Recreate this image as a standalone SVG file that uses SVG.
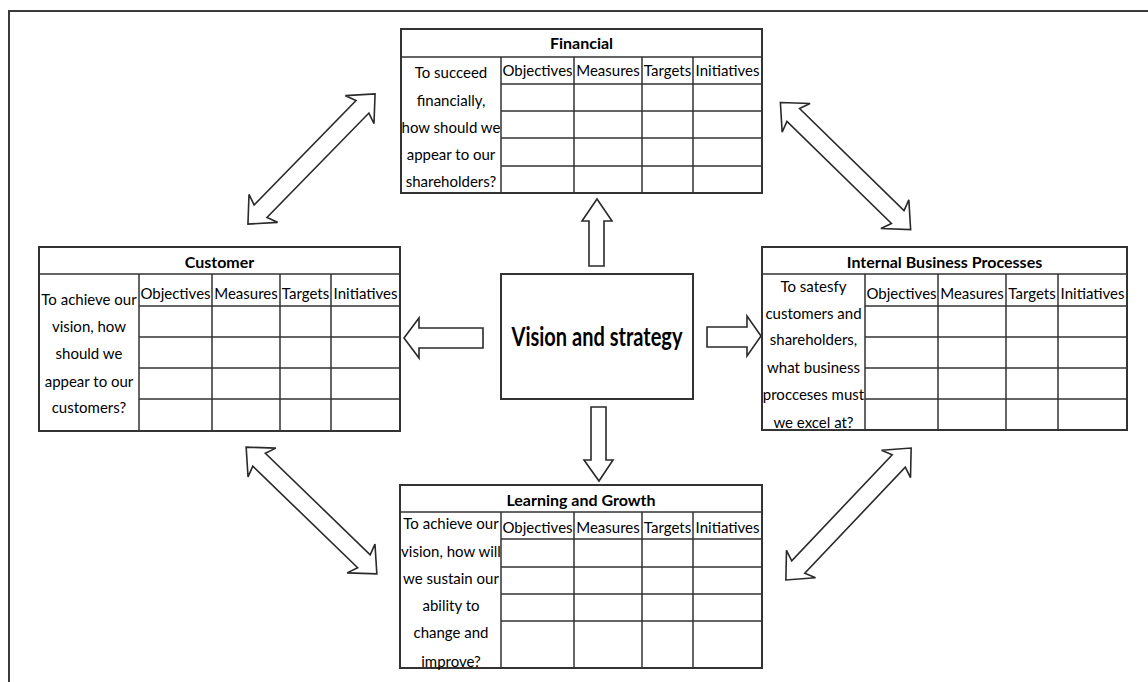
<svg xmlns="http://www.w3.org/2000/svg" width="1148" height="682" viewBox="0 0 1148 682">
  <style>
    .frame { stroke: #3a3a3a; stroke-width: 2; fill: none; }
    .box { fill: #ffffff; stroke: #333333; stroke-width: 2; }
    .grid { stroke: #333333; stroke-width: 1.5; fill: none; }
    .arrow { fill: #ffffff; stroke: #2a2a2a; stroke-width: 1.6; stroke-linejoin: miter; }
    .cell { font-family: Lato, "Liberation Sans", sans-serif; font-size: 15px; fill: #000000; text-anchor: middle; }
    .title { font-family: Lato, "Liberation Sans", sans-serif; font-size: 16px; font-weight: bold; fill: #000000; text-anchor: middle; }
    .vision { font-family: Lato, "Liberation Sans", sans-serif; font-size: 26px; font-weight: bold; fill: #000000; text-anchor: middle; }
  </style>
  <defs>
    <!-- two-headed block arrow, centred on the origin, pointing along x; barbs swept slightly back -->
    <path id="dbl" d="M -91,0 L -69,-20 L -73,-9 L 73,-9 L 69,-20 L 91,0 L 69,20 L 73,9 L -73,9 L -69,20 Z"/>
  </defs>

  <rect width="1148" height="682" fill="#ffffff"/>
  <!-- page frame: top and left edges -->
  <path class="frame" d="M 9,682 L 9,11 L 1148,11"/>

  <!-- Financial perspective -->
  <g id="financial">
    <rect class="box" x="401" y="29" width="361" height="164"/>
    <path class="grid" d="M401,57 H762 M501,84 H762 M501,111 H762 M501,138 H762 M501,166 H762 M501,57 V193 M574,57 V193 M642,57 V193 M693,57 V193"/>
    <text class="title" x="581.5" y="49">Financial</text>
    <text class="cell" x="537.5" y="76">Objectives</text>
    <text class="cell" x="608" y="76">Measures</text>
    <text class="cell" x="667.5" y="76">Targets</text>
    <text class="cell" x="727.5" y="76">Initiatives</text>
    <text class="cell" x="451" y="78">To succeed</text>
    <text class="cell" x="451" y="106">financially,</text>
    <text class="cell" x="451" y="133">how should we</text>
    <text class="cell" x="451" y="160">appear to our</text>
    <text class="cell" x="451" y="187">shareholders?</text>
  </g>

  <!-- Customer perspective -->
  <g id="customer">
    <rect class="box" x="39" y="247" width="361" height="184"/>
    <path class="grid" d="M39,274 H400 M139,306 H400 M139,337 H400 M139,368 H400 M139,399 H400 M139,274 V431 M212,274 V431 M280,274 V431 M331,274 V431"/>
    <text class="title" x="219.5" y="268">Customer</text>
    <text class="cell" x="175.5" y="299">Objectives</text>
    <text class="cell" x="246" y="299">Measures</text>
    <text class="cell" x="305.5" y="299">Targets</text>
    <text class="cell" x="365.5" y="299">Initiatives</text>
    <text class="cell" x="89" y="305">To achieve our</text>
    <text class="cell" x="89" y="332">vision, how</text>
    <text class="cell" x="89" y="359">should we</text>
    <text class="cell" x="89" y="387">appear to our</text>
    <text class="cell" x="89" y="413">customers?</text>
  </g>

  <!-- Internal business processes perspective -->
  <g id="internal">
    <rect class="box" x="762" y="247" width="365" height="183"/>
    <path class="grid" d="M762,274 H1127 M865,306 H1127 M865,337 H1127 M865,368 H1127 M865,399 H1127 M865,274 V430 M938,274 V430 M1006,274 V430 M1058,274 V430"/>
    <text class="title" x="944.5" y="268">Internal Business Processes</text>
    <text class="cell" x="901.5" y="299">Objectives</text>
    <text class="cell" x="972" y="299">Measures</text>
    <text class="cell" x="1032" y="299">Targets</text>
    <text class="cell" x="1092.5" y="299">Initiatives</text>
    <text class="cell" x="813.5" y="292">To satesfy</text>
    <text class="cell" x="813.5" y="319">customers and</text>
    <text class="cell" x="813.5" y="345">shareholders,</text>
    <text class="cell" x="813.5" y="373">what business</text>
    <text class="cell" x="813.5" y="400">procceses must</text>
    <text class="cell" x="813.5" y="428">we excel at?</text>
  </g>

  <!-- Learning and growth perspective -->
  <g id="learning">
    <rect class="box" x="400" y="485" width="362" height="183"/>
    <path class="grid" d="M400,512 H762 M501,539 H762 M501,567 H762 M501,594 H762 M501,621 H762 M501,512 V668 M574,512 V668 M642,512 V668 M693,512 V668"/>
    <text class="title" x="581" y="506">Learning and Growth</text>
    <text class="cell" x="537.5" y="533">Objectives</text>
    <text class="cell" x="608" y="533">Measures</text>
    <text class="cell" x="667.5" y="533">Targets</text>
    <text class="cell" x="727.5" y="533">Initiatives</text>
    <text class="cell" x="451" y="529">To achieve our</text>
    <text class="cell" x="451" y="557">vision, how will</text>
    <text class="cell" x="451" y="584">we sustain our</text>
    <text class="cell" x="451" y="611">ability to</text>
    <text class="cell" x="451" y="638">change and</text>
    <text class="cell" x="451" y="667">improve?</text>
  </g>

  <!-- Vision and strategy hub -->
  <g id="vision">
    <rect class="box" x="501" y="274" width="192" height="125" stroke-width="1.6"/>
    <text class="vision" x="597" y="346" textLength="171" lengthAdjust="spacingAndGlyphs">Vision and strategy</text>
  </g>

  <g id="connectors">
    <!-- hub to perspectives -->
    <path class="arrow" d="M597,199 L612,221 L604,221 L604,266 L589,266 L589,221 L582,221 Z"/>
    <path class="arrow" d="M599,481 L613,460 L606,460 L606,407 L591,407 L591,460 L584,460 Z"/>
    <path class="arrow" d="M404,338 L419,318 L419,328 L483,328 L483,348 L419,348 L419,358 Z"/>
    <path class="arrow" d="M761,336 L747,316 L747,327 L707,327 L707,347 L747,347 L747,356 Z"/>
    <!-- links between neighbouring perspectives -->
    <use href="#dbl" class="arrow" transform="translate(311.5,159) rotate(-45.7)"/>
    <use href="#dbl" class="arrow" transform="translate(845.5,166) rotate(44.3)"/>
    <use href="#dbl" class="arrow" transform="translate(311.5,510.5) rotate(44.1)"/>
    <use href="#dbl" class="arrow" transform="translate(848.5,514) rotate(-46.5)"/>
  </g>
</svg>
